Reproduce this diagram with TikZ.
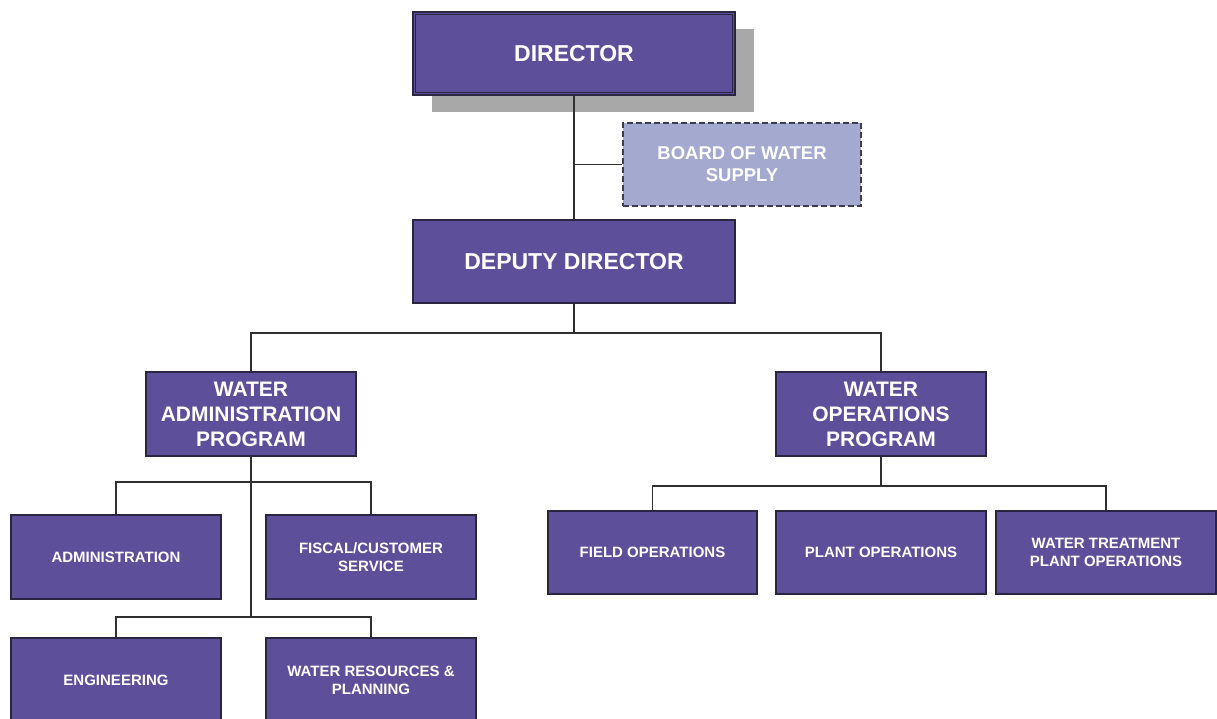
\documentclass[tikz,border=0pt]{standalone}
\usepackage{fontspec}
\setmainfont{Liberation Sans}
\usetikzlibrary{shadows}
\definecolor{pfill}{HTML}{5E4F9A}
\definecolor{pline}{HTML}{2A2540}
\definecolor{bfill}{HTML}{A3A9CF}
\definecolor{bline}{HTML}{3C3C50}
\definecolor{sgray}{HTML}{A8A8A8}
\definecolor{cline}{HTML}{303030}
\tikzset{
  box/.style={draw=pline, line width=1.3pt, fill=pfill, text=white, align=center, inner sep=0pt},
  topbox/.style={box, minimum width=322pt, minimum height=83pt, font=\bfseries\fontsize{23}{27}\selectfont},
  progbox/.style={box, minimum width=210pt, minimum height=84pt, font=\bfseries\fontsize{21}{25}\selectfont},
  subbox/.style={box, minimum width=210pt, minimum height=84pt, font=\bfseries\fontsize{15}{18}\selectfont},
  boardbox/.style={draw=bline, dash pattern=on 6pt off 3pt, line width=1.4pt, fill=bfill, text=white, align=center, inner sep=0pt,
    minimum width=238pt, minimum height=83pt, font=\bfseries\fontsize{18.5}{22}\selectfont},
  conn/.style={draw=cline, line width=1.3pt}
}
\begin{document}
\begin{tikzpicture}[x=1pt,y=-1pt]
\path[use as bounding box, clip] (0,0) rectangle (1217,719);
\fill[white] (0,0) rectangle (1217,719);
% top
\node[topbox, drop shadow={shadow xshift=19pt, shadow yshift=-17pt, fill=sgray, opacity=1}] (dir) at (574,53.5) {DIRECTOR};
\draw[pline, line width=0.6pt] ([shift={(3pt,-3pt)}]dir.north west) rectangle ([shift={(-3pt,3pt)}]dir.south east);
\node[boardbox] (board) at (742,164.5) {BOARD OF WATER\\SUPPLY};
\node[topbox] (dep) at (574,261.5) {DEPUTY DIRECTOR};
% programs
\node[progbox] (wap) at (251,414) {WATER\\ADMINISTRATION\\PROGRAM};
\node[progbox] (wop) at (881,414) {WATER\\OPERATIONS\\PROGRAM};
% admin subs
\node[subbox] (adm) at (116,557) {ADMINISTRATION};
\node[subbox] (fis) at (371,557) {FISCAL/CUSTOMER\\SERVICE};
\node[subbox] (eng) at (116,680) {ENGINEERING};
\node[subbox] (wrp) at (371,680) {WATER RESOURCES \&\\PLANNING};
% ops subs
\node[subbox, minimum width=209pt, minimum height=83pt] (fop) at (652.5,552.5) {FIELD OPERATIONS};
\node[subbox, minimum height=83pt] (pop) at (881,552.5) {PLANT OPERATIONS};
\node[subbox, minimum width=220pt, minimum height=83pt] (wtp) at (1106,552.5) {WATER TREATMENT\\PLANT OPERATIONS};
% bus coordinates
\coordinate (b1) at (574,333);
\coordinate (a1) at (251,482);
\coordinate (a2) at (251,617);
\coordinate (o1) at (881,486);
% connectors
\draw[conn] (dir.south) -- (dep.north);
\draw[conn] (board.west -| dir.south) -- (board.west);
\draw[conn] (dep.south) -- (b1);
\draw[conn] (wap.north) -- (wap.north |- b1) -- (wop.north |- b1) -- (wop.north);
\draw[conn] (wap.south) -- (a2);
\draw[conn] (adm.north) -- (adm.north |- a1) -- (fis.north |- a1) -- (fis.north);
\draw[conn] (eng.north) -- (eng.north |- a2) -- (wrp.north |- a2) -- (wrp.north);
\draw[conn] (wop.south) -- (o1);
\draw[conn] (fop.north) -- (fop.north |- o1) -- (wtp.north |- o1) -- (wtp.north);
\end{tikzpicture}
\end{document}
